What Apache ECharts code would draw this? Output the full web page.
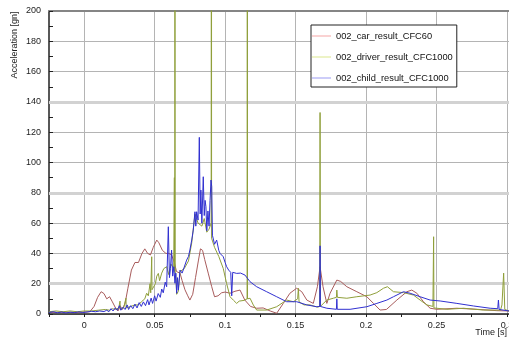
<!DOCTYPE html>
<html>
<head>
<meta charset="utf-8">
<script src="https://cdn.jsdelivr.net/npm/echarts@6/dist/echarts.min.js"></script>
<style>
  html, body { margin: 0; padding: 0; background: #fff; }
  #chart { width: 509px; height: 343px; }
</style>
</head>
<body>
<div id="chart"></div>
<script>
// Crash pulse traces: time [s] and resultant acceleration [gn]
const carTime = [-0.025, -0.015, -0.005, 0.000, 0.004, 0.007, 0.0095, 0.012, 0.014, 0.016, 0.018, 0.020, 0.0225, 0.024, 0.0255, 0.027, 0.029, 0.031, 0.0335, 0.036, 0.0385, 0.041, 0.043, 0.045, 0.047, 0.049, 0.0515, 0.053, 0.0555, 0.058, 0.060, 0.062, 0.064, 0.0655, 0.068, 0.0695, 0.0715, 0.0735, 0.075, 0.077, 0.079, 0.081, 0.0825, 0.084, 0.0855, 0.088, 0.0905, 0.0925, 0.095, 0.0975, 0.100, 0.1035, 0.107, 0.1106, 0.114, 0.118, 0.1224, 0.127, 0.132, 0.1366, 0.1413, 0.146, 0.1508, 0.1544, 0.158, 0.1626, 0.1655, 0.1674, 0.1695, 0.1722, 0.1745, 0.1793, 0.182, 0.1864, 0.1935, 0.2006, 0.2053, 0.210, 0.2145, 0.2219, 0.229, 0.2325, 0.2361, 0.2408, 0.2455, 0.2503, 0.2645, 0.2787, 0.2929, 0.3015];
const carAccel = [1.0, 1.2, 1.0, 1.3, 1.5, 5, 11, 14.7, 13.5, 10, 11.4, 8, 3.5, 2, 5.5, 3, 7, 17, 29, 34, 34, 40, 43, 40, 39, 44, 48.8, 47, 42, 40, 40, 39, 34, 28, 27, 22, 16, 12, 9.2, 13, 24, 35, 43, 42, 36, 27, 18, 11.4, 12, 14, 14.5, 13.7, 15, 15.8, 9.2, 5, 3.8, 4, 2, 0.5, 7, 13.7, 17, 14.7, 9.2, 7, 18, 31.2, 18, 7, 13.7, 22.4, 21.5, 18, 14.7, 11.4, 7, 2.6, 3, 9.2, 14.7, 15.8, 13.7, 8.1, 3.8, 3.1, 3.8, 3.1, 2.2, 2.0];

const driverTime = [-0.025, -0.020, -0.015, -0.010, -0.005, 0.000, 0.005, 0.010, 0.015, 0.018, 0.020, 0.022, 0.0245, 0.0252, 0.0254, 0.0256, 0.028, 0.0294, 0.0296, 0.0298, 0.033, 0.036, 0.0385, 0.0405, 0.043, 0.0443, 0.0455, 0.0467, 0.0472, 0.0478, 0.0479, 0.0481, 0.0505, 0.0515, 0.0526, 0.0535, 0.055, 0.0565, 0.0585, 0.0600, 0.0615, 0.0635, 0.0639, 0.0640, 0.0641, 0.0643, 0.0644, 0.0645, 0.0650, 0.0656, 0.0668, 0.0680, 0.0710, 0.0740, 0.0763, 0.0786, 0.0808, 0.0835, 0.0852, 0.0870, 0.0886, 0.0901, 0.0902, 0.0903, 0.0904, 0.0910, 0.0925, 0.0955, 0.0987, 0.1011, 0.1035, 0.1060, 0.1082, 0.110, 0.1135, 0.1156, 0.1157, 0.1158, 0.1159, 0.1177, 0.120, 0.1224, 0.1295, 0.1366, 0.1437, 0.1484, 0.1515, 0.152, 0.1525, 0.156, 0.1603, 0.1655, 0.1672, 0.1674, 0.1676, 0.1722, 0.1768, 0.1790, 0.1793, 0.1797, 0.1864, 0.1935, 0.2029, 0.2077, 0.2124, 0.2152, 0.2195, 0.2266, 0.2337, 0.2384, 0.2432, 0.2475, 0.2478, 0.248, 0.2482, 0.249, 0.2574, 0.2692, 0.2834, 0.2955, 0.2965, 0.2977, 0.2985, 0.3015];
const driverAccel = [1.5, 2, 1.5, 2, 1.5, 2, 2, 2.5, 3, 2.5, 3.5, 3, 4, 3.5, 8.5, 3, 4, 4.5, 10.4, 4, 5, 6, 6, 8, 10, 13.7, 12, 20, 14, 15, 37.8, 16, 20, 25, 26.8, 22, 27, 30, 31.2, 26, 33, 30, 30, 90, 30, 28, 400, 28, 26, 13, 15, 28, 30, 35, 47, 66, 60, 58, 63, 54, 56, 60, 60, 500, 50, 50, 44, 38, 30, 20, 11.4, 9, 7, 8.5, 9, 10, 10, 400, 10, 10.4, 6, 2.6, 2.6, 4.8, 9.2, 8.1, 10, 17, 8, 6, 6, 4.5, 5, 133, 5, 9.2, 10.4, 11, 15.8, 11, 10.4, 11.4, 12.5, 14.1, 17, 18, 14.7, 14.1, 12.5, 9.2, 6, 5, 4.5, 51, 4, 3.8, 3.1, 3.8, 2.6, 2.6, 6, 27, 3, 2];

const childTime = [-0.025, -0.022, -0.019, -0.016, -0.013, -0.010, -0.007, -0.004, -0.001, 0.002, 0.005, 0.008, 0.011, 0.014, 0.016, 0.0175, 0.019, 0.0205, 0.022, 0.0235, 0.025, 0.026, 0.0275, 0.029, 0.0305, 0.0315, 0.033, 0.0345, 0.036, 0.0375, 0.039, 0.0405, 0.042, 0.0435, 0.045, 0.046, 0.0475, 0.0485, 0.050, 0.051, 0.0525, 0.054, 0.055, 0.0561, 0.0575, 0.0585, 0.0597, 0.0605, 0.0612, 0.062, 0.0628, 0.0636, 0.0644, 0.065, 0.0656, 0.0662, 0.0668, 0.068, 0.0695, 0.071, 0.0727, 0.074, 0.075, 0.0763, 0.0774, 0.0786, 0.0792, 0.0798, 0.0808, 0.0817, 0.0823, 0.0828, 0.0835, 0.0845, 0.0852, 0.0858, 0.0864, 0.087, 0.0878, 0.0886, 0.0893, 0.0900, 0.0905, 0.091, 0.0916, 0.0925, 0.094, 0.0955, 0.0964, 0.0987, 0.100, 0.1011, 0.1025, 0.1040, 0.1047, 0.1054, 0.1082, 0.111, 0.1141, 0.115, 0.1177, 0.1224, 0.1295, 0.1366, 0.1437, 0.1508, 0.158, 0.165, 0.1672, 0.1674, 0.1676, 0.1722, 0.1790, 0.1793, 0.1796, 0.1887, 0.2006, 0.2077, 0.2148, 0.2195, 0.2266, 0.2313, 0.2384, 0.2455, 0.2526, 0.2645, 0.2763, 0.2881, 0.2935, 0.294, 0.2945, 0.3015];
const childAccel = [1.0, 1.5, 0.8, 1.3, 0.7, 1.2, 0.9, 1.4, 1.0, 1.3, 1.8, 1.5, 2.0, 1.6, 2.5, 1.5, 3.5, 2.0, 4.0, 2.5, 5.5, 2.5, 4.5, 3.0, 6.0, 3.0, 5.5, 3.5, 6.5, 4.0, 7.5, 5.0, 8.0, 5.5, 9.5, 6.0, 10.5, 7.0, 12.0, 8.5, 13.5, 11.0, 16.5, 14.0, 21.0, 18.0, 57.6, 24.0, 30.0, 42.2, 25.0, 31.2, 20.3, 27.0, 13.7, 24.0, 15.8, 29.0, 27.0, 31.0, 35.6, 38.0, 42.2, 48.8, 55.4, 67.5, 58, 67.5, 62, 116.6, 66, 81.8, 60, 90.6, 65, 75, 70.8, 55, 68, 58, 75, 88.4, 84, 52, 53.3, 46, 48.8, 42, 40, 37.8, 34, 31.2, 29, 27.5, 12, 27.5, 26.8, 27, 25.7, 27, 21.3, 18, 14.7, 11.4, 8.1, 8.1, 6, 4.8, 5, 45, 5, 3.8, 3.1, 10, 3.1, 3.1, 4.8, 7, 9.2, 11.4, 14.7, 13.7, 11.4, 9.2, 8.6, 7, 5.3, 3.8, 3.5, 9.2, 3, 2];

const seriesNames = ['002_car_result_CFC60', '002_driver_result_CFC1000', '002_child_result_CFC1000'];
const lineColors = ['#a85c5c', '#8f9f3a', '#3030d0'];
const legendColors = ['#f4a4a4', '#dbe68c', '#9a9af2'];

const yTicks = [0, 20, 40, 60, 80, 100, 120, 140, 160, 180, 200];
// horizontal reference bands drawn slightly wider than the grid
const bandLevels = [20, 80, 140];

function pairs(ts, vs) {
  return ts.map((t, i) => [t, vs[i]]);
}

const chart = echarts.init(document.getElementById('chart'), null, { renderer: 'canvas' });
const font = 'Liberation Sans, Arial, sans-serif';

chart.setOption({
  animation: false,
  backgroundColor: '#ffffff',
  grid: { left: 49, right: 0, top: 11, bottom: 29, containLabel: false, outerBoundsMode: 'none' },
  legend: {
    orient: 'vertical',
    left: 311,
    top: 25,
    padding: [5, 4, 3, 1],
    itemWidth: 19,
    itemHeight: 1,
    itemGap: 9,
    icon: 'rect',
    backgroundColor: '#ffffff',
    borderColor: '#222222',
    borderWidth: 1,
    borderRadius: 0,
    textStyle: { fontFamily: font, fontSize: 9.3, color: '#111', lineHeight: 12 },
    data: seriesNames.map((n, i) => ({ name: n, itemStyle: { color: legendColors[i] } }))
  },
  xAxis: [{
    type: 'value',
    min: -0.025,
    max: 0.3015,
    interval: 0.025,
    axisLine: { show: true, onZero: false, lineStyle: { color: '#202020', width: 1.5 } },
    axisTick: { show: true, inside: false, length: 3, lineStyle: { color: '#202020' } },
    axisLabel: {
      fontFamily: font, fontSize: 9, color: '#222', margin: 7, hideOverlap: false,
      formatter: v => {
        const m = Math.round(v * 1000);
        return m % 50 === 0 ? String(+(m / 1000).toFixed(3)) : '';
      }
    },
    splitLine: { show: true, lineStyle: { color: ['rgba(0,0,0,0)', '#b4b4b4'], width: 1 } }
  }, {
    type: 'value',
    position: 'top',
    min: -0.025,
    max: 0.3015,
    axisLine: { show: true, onZero: false, lineStyle: { color: '#858585', width: 2 } },
    axisTick: { show: false },
    axisLabel: { show: false },
    splitLine: { show: false }
  }],
  yAxis: {
    type: 'value',
    min: yTicks[0],
    max: yTicks[yTicks.length - 1],
    interval: 20,
    axisLine: { show: true, onZero: false, lineStyle: { color: '#202020', width: 1.5 } },
    axisTick: { show: true, inside: true, length: 4, lineStyle: { color: '#202020' } },
    minorTick: { show: true, splitNumber: 2, length: 4, lineStyle: { color: '#202020' } },
    axisLabel: { fontFamily: font, fontSize: 9, color: '#222', margin: 8 },
    splitLine: { show: true, lineStyle: { color: '#b4b4b4', width: 1 } }
  },
  graphic: [
    {
      type: 'text', x: 15, y: 45, rotation: Math.PI / 2,
      style: { text: 'Acceleration [gn]', fontFamily: font, fontSize: 9, fill: '#222', textAlign: 'center', textVerticalAlign: 'middle' }
    },
    {
      type: 'text', x: 507, y: 333,
      style: { text: 'Time [s]', fontFamily: font, fontSize: 9, fill: '#222', textAlign: 'right', textVerticalAlign: 'middle' }
    }
  ],
  series: [
    {
      name: seriesNames[0], type: 'line', showSymbol: false, symbol: 'none', clip: true,
      lineStyle: { color: lineColors[0], width: 1 }, itemStyle: { color: lineColors[0] },
      data: pairs(carTime, carAccel),
      markLine: {
        silent: true, symbol: 'none', label: { show: false }, animation: false, z: 1,
        lineStyle: { color: '#d2d2d2', width: 3, type: 'solid' },
        data: bandLevels.map(v => ({ yAxis: v }))
      }
    },
    {
      name: seriesNames[1], type: 'line', showSymbol: false, symbol: 'none', clip: true,
      lineStyle: { color: lineColors[1], width: 1 }, itemStyle: { color: lineColors[1] },
      data: pairs(driverTime, driverAccel)
    },
    {
      name: seriesNames[2], type: 'line', showSymbol: false, symbol: 'none', clip: true,
      lineStyle: { color: lineColors[2], width: 1 }, itemStyle: { color: lineColors[2] },
      data: pairs(childTime, childAccel)
    }
  ]
});
</script>
</body>
</html>
